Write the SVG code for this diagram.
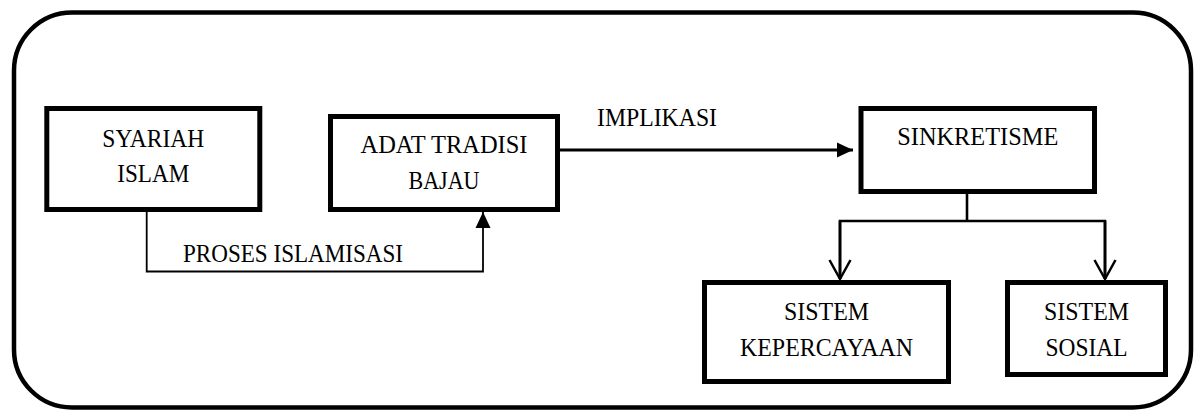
<svg xmlns="http://www.w3.org/2000/svg" width="1195" height="410" viewBox="0 0 1195 410">
  <style>
    .box { fill: #ffffff; stroke: #000000; stroke-width: 5; }
    .frame { fill: #ffffff; stroke: #000000; stroke-width: 4.5; }
    .lbl { font-family: "Liberation Serif", "Times New Roman", serif; font-size: 26px; fill: #000000; }
    .mid { text-anchor: middle; }
    .conn { fill: none; stroke: #000000; stroke-linejoin: miter; }
  </style>
  <defs>
    <marker id="solid" markerUnits="userSpaceOnUse" markerWidth="16" markerHeight="15" refX="16" refY="7.5" orient="auto" overflow="visible">
      <path d="M0,0 L16,7.5 L0,15 z" fill="#000000"/>
    </marker>
    <marker id="open" markerUnits="userSpaceOnUse" markerWidth="21" markerHeight="23" refX="19" refY="10.5" orient="auto" overflow="visible">
      <path d="M0,0 L19,10.5 L0,21" fill="none" stroke="#000000" stroke-width="2.5"/>
    </marker>
  </defs>

  <rect id="frame" class="frame" x="14" y="12.5" width="1177" height="395" rx="58" ry="58"/>

  <g id="connectors">
    <path class="conn" stroke-width="1.8" d="M146.7,212 V271.5 H483 V212" marker-end="url(#solid)"/>
    <path class="conn" stroke-width="3" d="M560,150 H853" marker-end="url(#solid)"/>
    <path class="conn" stroke-width="2.6" d="M967,194 V221"/>
    <path class="conn" stroke-width="2.6" d="M840,279 V221 H1105 V279"/>
    <path class="conn" stroke-width="2.6" d="M840,221 V279" marker-end="url(#open)"/>
    <path class="conn" stroke-width="2.6" d="M1105,221 V279" marker-end="url(#open)"/>
    <text class="lbl" x="183" y="262" textLength="220" lengthAdjust="spacingAndGlyphs">PROSES ISLAMISASI</text>
    <text class="lbl" x="597" y="126" textLength="120" lengthAdjust="spacingAndGlyphs">IMPLIKASI</text>
  </g>

  <g id="syariah">
    <rect class="box" x="46.8" y="108.5" width="213" height="101"/>
    <text class="lbl mid" x="153.3" y="147" textLength="102" lengthAdjust="spacingAndGlyphs">SYARIAH</text>
    <text class="lbl mid" x="153.3" y="182" textLength="72" lengthAdjust="spacingAndGlyphs">ISLAM</text>
  </g>

  <g id="adat">
    <rect class="box" x="330.5" y="116.5" width="227" height="93"/>
    <text class="lbl mid" x="444" y="153" textLength="167" lengthAdjust="spacingAndGlyphs">ADAT TRADISI</text>
    <text class="lbl mid" x="444" y="189" textLength="71" lengthAdjust="spacingAndGlyphs">BAJAU</text>
  </g>

  <g id="sinkretisme">
    <rect class="box" x="861" y="108.5" width="233.5" height="83"/>
    <text class="lbl mid" x="977.8" y="145" textLength="161" lengthAdjust="spacingAndGlyphs">SINKRETISME</text>
  </g>

  <g id="kepercayaan">
    <rect class="box" x="704.5" y="282.5" width="244" height="99"/>
    <text class="lbl mid" x="826.5" y="320" textLength="85" lengthAdjust="spacingAndGlyphs">SISTEM</text>
    <text class="lbl mid" x="826.5" y="356" textLength="173" lengthAdjust="spacingAndGlyphs">KEPERCAYAAN</text>
  </g>

  <g id="sosial">
    <rect class="box" x="1007.5" y="282.5" width="158" height="92"/>
    <text class="lbl mid" x="1086.5" y="320" textLength="85" lengthAdjust="spacingAndGlyphs">SISTEM</text>
    <text class="lbl mid" x="1086.5" y="356" textLength="82" lengthAdjust="spacingAndGlyphs">SOSIAL</text>
  </g>
</svg>
